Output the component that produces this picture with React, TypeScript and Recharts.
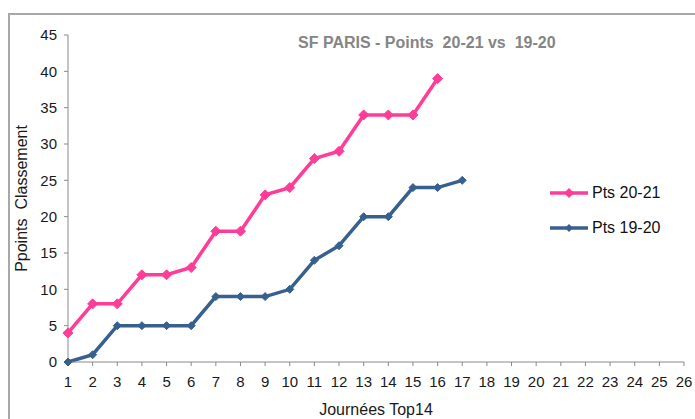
import { Line, LineChart, XAxis, YAxis } from 'recharts'

const PINK = '#ff3d98'
const BLUE = '#37608f'
const AXIS = '#8a8a8a'
const FONT = 'Liberation Sans, Arial, sans-serif'

// journées 1..26 (axe X)
const JOURNEES = Array.from({ length: 26 }, (_, i) => String(i + 1))
const PTS_2021 = [4, 8, 8, 12, 12, 13, 18, 18, 23, 24, 28, 29, 34, 34, 34, 39]
const PTS_1920 = [0, 1, 5, 5, 5, 5, 9, 9, 9, 10, 14, 16, 20, 20, 24, 24, 25]
const Y_TICKS = [0, 5, 10, 15, 20, 25, 30, 35, 40, 45]

const SERIES = [
  { key: 'pts2021', name: 'Pts 20-21', color: PINK, r: 5 },
  { key: 'pts1920', name: 'Pts 19-20', color: BLUE, r: 4 },
]

const rows = JOURNEES.map((j, i) => ({
  j,
  pts2021: PTS_2021[i] ?? null,
  pts1920: PTS_1920[i] ?? null,
}))

// losange comme marqueur Excel
function diamond(color: string, r: number) {
  return (props: { cx?: number; cy?: number; value?: number | null; index?: number }) => {
    const { cx, cy, value, index } = props
    if (value == null || cx == null || cy == null) return <g key={`d-${index}`} />
    return (
      <polygon
        key={`d-${index}`}
        points={`${cx},${cy - r} ${cx + r},${cy} ${cx},${cy + r} ${cx - r},${cy}`}
        fill={color}
        stroke={color}
      />
    )
  }
}

function LegendBox() {
  return (
    <div style={{ position: 'absolute', left: 549, top: 183, fontFamily: FONT, fontSize: 16, color: '#111' }}>
      {SERIES.map((s, i) => (
        <div key={s.key} style={{ display: 'flex', alignItems: 'center', height: 20, marginTop: i ? 15 : 0 }}>
          <svg width={40} height={12} style={{ marginRight: 3 }}>
            <line x1={1} y1={6} x2={39} y2={6} stroke={s.color} strokeWidth={3.5} />
            <polygon points={`20,${6 - s.r} ${20 + s.r},6 20,${6 + s.r} ${20 - s.r},6`} fill={s.color} />
          </svg>
          <span>{s.name}</span>
        </div>
      ))}
    </div>
  )
}

export default function App() {
  return (
    <div style={{ position: 'absolute', left: 0, top: 0, width: 695, height: 419, overflow: 'hidden', background: '#fff' }}>
      <div
        style={{
          position: 'absolute',
          left: 8,
          top: 13,
          width: 720,
          height: 440,
          borderTop: '2px solid #a8a8a8',
          borderLeft: '2px solid #a8a8a8',
        }}
      />
      <div
        style={{
          position: 'absolute',
          left: 298,
          top: 33,
          fontFamily: FONT,
          fontWeight: 700,
          fontSize: 16,
          color: '#858585',
          whiteSpace: 'pre',
          lineHeight: '20px',
        }}
      >
        {'SF PARIS - Points  20-21 vs  19-20'}
      </div>
      <LineChart
        width={695}
        height={419}
        data={rows}
        margin={{ top: 35, right: 11, left: 0, bottom: 0 }}
        style={{ position: 'absolute', left: 0, top: 0, fontFamily: FONT }}
      >
        <XAxis
          dataKey="j"
          interval={0}
          height={57}
          stroke={AXIS}
          tickSize={4}
          tickMargin={10}
          tick={{ fill: '#1a1a1a', fontSize: 15 }}
          label={{ value: 'Journées Top14', position: 'insideBottom', offset: 4, fill: '#1a1a1a', fontSize: 16 }}
        />
        <YAxis
          type="number"
          domain={[0, 45]}
          ticks={Y_TICKS}
          interval={0}
          width={68}
          stroke={AXIS}
          tickSize={4}
          tickMargin={7}
          tick={{ fill: '#1a1a1a', fontSize: 15 }}
          label={{
            value: 'Ppoints\u00a0\u00a0Classement',
            angle: -90,
            position: 'insideLeft',
            offset: 21,
            fill: '#1a1a1a',
            fontSize: 16,
            style: { textAnchor: 'middle' },
          }}
        />
        {SERIES.map((s) => (
          <Line
            key={s.key}
            dataKey={s.key}
            name={s.name}
            type="linear"
            stroke={s.color}
            strokeWidth={3.5}
            dot={diamond(s.color, s.r)}
            activeDot={false}
            connectNulls={false}
            isAnimationActive={false}
          />
        ))}
      </LineChart>
      <LegendBox />
    </div>
  )
}
